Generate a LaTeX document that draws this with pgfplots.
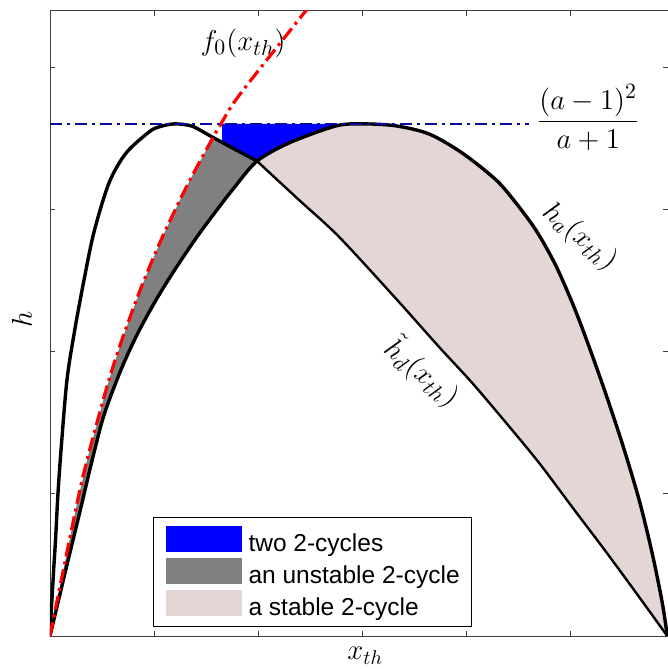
\documentclass[border=0pt]{standalone}
\usepackage{fontspec}
\usepackage{pgfplots}
\pgfplotsset{compat=1.18}
\usetikzlibrary{calc}
\newfontfamily\legendfont{Liberation Sans}
\definecolor{pinkfill}{RGB}{229,214,214}
\definecolor{grayfill}{RGB}{128,128,128}
\definecolor{navyline}{RGB}{10,10,160}
\begin{document}
\begin{tikzpicture}
\begin{axis}[
  name=ax, scale only axis, width=309bp, height=312.5bp,
  xmin=0, xmax=5.94, ymin=0, ymax=4.401,
  xtick={0,1,2,3,4,5}, ytick={0,1,2,3,4},
  xticklabels={}, yticklabels={},
  tick pos=both, tick align=inside, major tick length=2.5bp,
  axis line style={black!75, line width=0.5bp},
  every tick/.style={black!75, line width=0.5bp},
  xlabel={$x_{th}$}, ylabel={$h$},
  xlabel style={at={(axis description cs:0.51,-0.038)}, anchor=base, font=\fontsize{14.5}{17}\selectfont},
  ylabel style={at={(axis description cs:-0.0453,0.507)}, anchor=center, font=\fontsize{15}{18}\selectfont},
  legend style={at={(0.1667,0.0144)}, anchor=south west, draw=black, line width=0.5bp, fill=white,
    inner xsep=6bp, inner ysep=4bp, row sep=1.4bp, column sep=3.5bp,
    font=\legendfont\fontsize{12.3}{14}\selectfont, nodes={inner sep=0pt, anchor=base west}},
  legend cell align=left,
  legend image code/.code={\fill[#1] (0bp,0bp) rectangle (38bp,13bp);},
  no markers,
]
% blue region: two 2-cycles
\addplot[draw=none, fill=blue] coordinates {
 (1.654,3.606) (3.019,3.606) (2.750,3.592) (2.298,3.472) (1.990,3.344) (1.788,3.423) (1.654,3.476)
};
\addlegendentry{two 2-cycles}
% gray region: unstable 2-cycle
\addplot[draw=none, fill=grayfill] coordinates {
 (0,0) (0.25,0.900) (0.356,1.239) (0.548,1.757) (0.683,2.068) (0.875,2.452) (1.067,2.788)
 (1.260,3.087) (1.356,3.226) (1.558,3.499) (1.788,3.423) (1.990,3.344)
 (1.769,3.156) (1.577,2.974) (1.385,2.782) (1.163,2.538) (1.000,2.342) (0.837,2.122)
 (0.683,1.876) (0.519,1.556) (0.404,1.235) (0.298,0.908) (0.163,0.500) (0.087,0.268) (0,0)
};
\addlegendentry{an unstable 2-cycle}
% pink region: stable 2-cycle
\addplot[draw=none, fill=pinkfill] coordinates {
 (1.990,3.344) (2.298,3.472) (2.750,3.592) (3.019,3.606) (3.327,3.592) (3.644,3.535) (3.962,3.401)
 (4.288,3.211) (4.481,3.047) (4.673,2.855) (4.856,2.617) (5.019,2.348) (5.154,2.092) (5.327,1.737)
 (5.500,1.356) (5.663,0.957) (5.788,0.582) (5.885,0.233) (5.933,0)
 (5.663,0.274) (5.346,0.591) (5.019,0.908) (4.702,1.218) (4.385,1.500) (4.058,1.782)
 (3.740,2.035) (3.337,2.366) (2.779,2.810) (2.394,3.070) (1.990,3.344)
};
\addlegendentry{a stable 2-cycle}
% curve A, rising part (thick)
\addplot[black, line width=1.7bp, smooth, tension=0.5, forget plot] coordinates {
 (0,0) (0.010,0.148) (0.024,0.324) (0.038,0.500) (0.053,0.676) (0.077,1.007) (0.106,1.310) (0.163,1.803)
 (0.238,2.155) (0.327,2.507) (0.423,2.845) (0.567,3.190) (0.731,3.401) (0.952,3.549)
 (1.048,3.585) (1.192,3.606) (1.365,3.590) (1.558,3.514) (1.788,3.423) (1.990,3.344)
};
% curve A, falling part (thin): tilde h_d
\addplot[black, line width=1.2bp, smooth, tension=0.5, forget plot] coordinates {
 (1.990,3.344) (2.394,3.070) (2.779,2.810) (3.337,2.366) (3.740,2.035) (4.058,1.782)
 (4.385,1.500) (4.702,1.218) (5.019,0.908) (5.346,0.591) (5.663,0.274) (5.933,0)
};
% curve B: h_a
\addplot[black, line width=1.7bp, smooth, tension=0.5, forget plot] coordinates {
 (0,0) (0.087,0.268) (0.163,0.500) (0.298,0.908) (0.404,1.235) (0.519,1.556)
 (0.683,1.876) (0.837,2.122) (1.000,2.342) (1.163,2.538) (1.385,2.782) (1.577,2.974)
 (1.769,3.156) (1.990,3.344) (2.298,3.472) (2.750,3.592) (3.019,3.606) (3.327,3.592)
 (3.644,3.535) (3.962,3.401) (4.288,3.211) (4.481,3.047) (4.673,2.855) (4.856,2.617)
 (5.019,2.348) (5.154,2.092) (5.327,1.737) (5.500,1.356) (5.663,0.957) (5.788,0.582)
 (5.885,0.233) (5.933,0)
};
\node[font=\fontsize{15}{18}\selectfont] at (axis cs:1.856,4.176) {$f_0(x_{th})$};
% f_0 red dash-dot
\addplot[red, line width=1.6bp, smooth, tension=0.5, dash pattern=on 7bp off 2.5bp on 1.5bp off 2.5bp, forget plot] coordinates {
 (0,0) (0.25,0.900) (0.356,1.239) (0.548,1.757) (0.683,2.068) (0.875,2.452) (1.067,2.788)
 (1.260,3.087) (1.356,3.226) (1.558,3.499) (1.644,3.607) (1.817,3.806) (2.442,4.387) (2.55,4.48)
};
% horizontal level (a-1)^2/(a+1)
\addplot[navyline, line width=1.2bp, dash pattern=on 6bp off 2.5bp on 1.5bp off 2.5bp, forget plot] coordinates {
 (0,3.606) (4.606,3.606)
};
\node[font=\fontsize{15.5}{18}\selectfont] at (axis cs:5.173,3.651) {$\displaystyle\frac{(a-1)^2}{a+1}$};
\node[rotate=-40, font=\fontsize{15}{18}\selectfont] at (axis cs:5.09,2.81) {$h_a(x_{th})$};
\node[rotate=-40, font=\fontsize{15}{18}\selectfont] at (axis cs:3.58,1.86) {$\tilde{h}_d(x_{th})$};
\end{axis}
\pgfresetboundingbox
\path[use as bounding box] ($(ax.south west)+(-25bp,-16.5bp)$) rectangle ($(ax.north east)+(0bp,5.5bp)$);
\end{tikzpicture}
\end{document}
